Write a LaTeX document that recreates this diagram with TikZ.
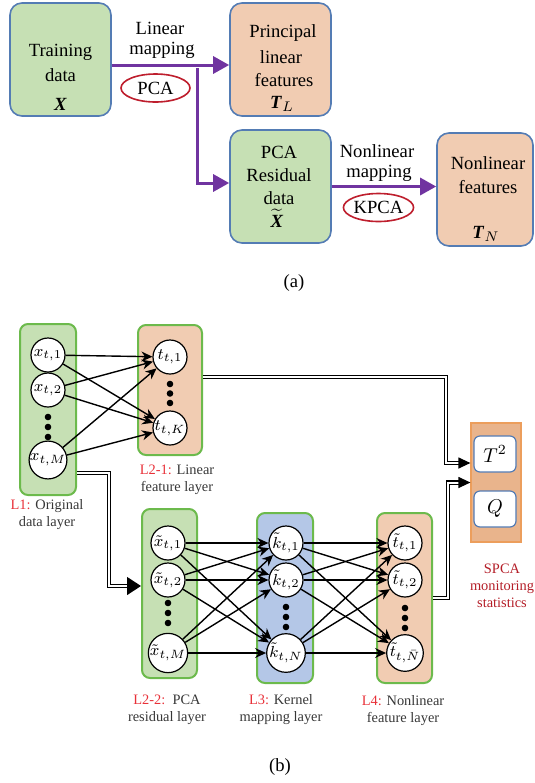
\documentclass[tikz,border=0pt]{standalone}
\usepackage{fontspec}
\setmainfont{Liberation Serif}
\usepackage{tikz}
\usetikzlibrary{arrows.meta,shapes.geometric}

\definecolor{boxgreen}{RGB}{198,224,180}
\definecolor{boxpeach}{RGB}{241,204,178}
\definecolor{boxblue}{RGB}{180,199,231}
\definecolor{edgeblue}{RGB}{84,124,180}
\definecolor{edgegreen}{RGB}{108,186,76}
\definecolor{mapviolet}{RGB}{112,52,160}
\definecolor{ovalred}{RGB}{190,30,45}
\definecolor{tagred}{RGB}{232,48,56}
\definecolor{statfill}{RGB}{233,180,140}
\definecolor{statedge}{RGB}{236,158,92}
\definecolor{statred}{RGB}{180,30,40}
\definecolor{txtgray}{RGB}{55,55,55}

\begin{document}
\begin{tikzpicture}[x=0.5pt,y=-0.5pt,
  blk/.style={draw=edgeblue,line width=0.8pt,rounded corners=6pt,minimum width=50.5pt,minimum height=56.5pt},
  txt/.style={font=\fontsize{9.3}{11}\selectfont,inner sep=0pt},
  oval/.style={ellipse,draw=ovalred,line width=0.8pt,fill=white,minimum width=34.5pt,minimum height=14pt,inner sep=0pt,font=\fontsize{9.3}{11}\selectfont},
  map/.style={draw=mapviolet,line width=1.5pt,-{Triangle[length=8pt,width=8.5pt]}},
  layer/.style={draw=edgegreen,line width=1pt,rounded corners=4pt},
  neuron/.style={circle,draw,fill=white,line width=0.6pt,minimum size=17pt,inner sep=0pt,font=\fontsize{8.5}{10}\selectfont},
  dot/.style={circle,fill,inner sep=0pt,minimum size=3.3pt},
  ar/.style={-{Stealth[length=5.5pt,width=5pt]},line width=0.7pt},
  dbl/.style={double,double distance=1pt,line width=0.6pt},
  stat/.style={draw=edgeblue,fill=white,line width=0.6pt,rounded corners=3pt,minimum width=21pt,minimum height=18pt,font=\fontsize{10}{12}\selectfont},
  tag/.style={font=\fontsize{7.2}{8.5}\selectfont,align=center,text=txtgray,inner sep=0pt}]
 \useasboundingbox (0,0) rectangle (535,783);
 % (a) linear / nonlinear split
 \node[blk,fill=boxgreen] (train) at (60.5,59.5) {};
 \node[blk,fill=boxpeach] (princ) at (280.5,59.5) {};
 \node[blk,fill=boxgreen] (resid) at (280.5,186.5) {};
 \node[blk,fill=boxpeach,minimum width=48pt] (nonl) at (485,189.5) {};
 \foreach \n/\x/\y/\t in {
   tra/60.5/52/Training, trb/60.5/75/data, trc/60.5/104/\textbf{\textit{X}},
   pra/283/33/Principal, prb/281/57/linear, prc/284/80/features, prd/282/104/{\textbf{\textit{T}}$_L$},
   rea/279/152/PCA, reb/279/175/Residual, rec/279/198/data, red/277/218/{$\widetilde{\textbf{\textit{X}}}$},
   nla/488/163/Nonlinear, nlb/488/187/features, nlc/486/234/{\textbf{\textit{T}}$_N$}} {
   \node[txt] (\n) at (\x,\y) {\t};
 }
 \coordinate (fork) at (197,65);
 \draw[map] (train.east |- fork) -- (princ.west |- fork);
 \draw[map] ([yshift=-1.5pt]fork) |- ([yshift=1.75pt]resid.west);
 \draw[map] (resid.east) -- (resid.east -| nonl.west);
 \node[txt] (lmapa) at (160,28) {Linear};
 \node[txt] (lmapb) at (162,50) {mapping};
 \node[oval] (pca) at (155.5,88) {PCA};
 \node[txt] (nmapa) at (377,151) {Nonlinear};
 \node[txt] (nmapb) at (379,173) {mapping};
 \node[oval] (kpca) at (378.5,207.5) {KPCA};
 \node[txt] (capa) at (294,283) {(a)};
 % (b) network layers
 \node[layer,fill=boxgreen,minimum width=28pt,minimum height=85.5pt] (orig) at (48,409.5) {};
 \node[layer,fill=boxpeach,minimum width=32pt,minimum height=65pt] (lin) at (170,390) {};
 \node[layer,fill=boxgreen,minimum width=27.5pt,minimum height=84.5pt] (res) at (169.5,593.5) {};
 \node[layer,fill=boxblue,minimum width=28pt,minimum height=85pt] (ker) at (285,598) {};
 \node[layer,fill=boxpeach,minimum width=27.5pt,minimum height=85pt] (nlf) at (404.5,598) {};
 \foreach \i/\y/\lab in {1/355/{x_{t,1}},2/390/{x_{t,2}},3/460/{x_{t,M}}}
   \node[neuron] (x\i) at (48,\y) {$\lab$};
 \foreach \i/\y/\lab in {1/357/{t_{t,1}},2/428/{t_{t,K}}}
   \node[neuron] (t\i) at (170,\y) {$\lab$};
 \foreach \i/\y/\lr/\lk/\ln in {
   1/543/{\tilde{x}_{t,1}}/{\tilde{k}_{t,1}}/{\tilde{t}_{t,1}},
   2/580/{\tilde{x}_{t,2}}/{\tilde{k}_{t,2}}/{\tilde{t}_{t,2}},
   3/653/{\tilde{x}_{t,M}}/{\tilde{k}_{t,N}}/{\tilde{t}_{t,\bar{N}}}} {
   \node[neuron] (r\i) at (168,\y) {$\lr$};
   \node[neuron] (k\i) at (286,\y) {$\lk$};
   \node[neuron] (n\i) at (405,\y) {$\ln$};
 }
 \foreach \j/\ya/\yb/\yc in {1/417/384/603,2/427/393.5/613,3/437/403/623} {
   \node[dot] (xd\j) at (48,\ya) {};
   \node[dot] (td\j) at (170,\yb) {};
   \node[dot] (rd\j) at (168,\yc) {};
   \node[dot] (kd\j) at (286,\yc+4) {};
   \node[dot] (nd\j) at (405,\yc+5) {};
 }
 \foreach \i in {1,2,3} {
   \foreach \j in {1,2} \draw[ar] (x\i) -- (t\j);
   \foreach \j in {1,2,3} {
     \draw[ar] (r\i) -- (k\j);
     \draw[ar] (k\i) -- (n\j);
   }
 }
 % monitoring statistics
 \node[draw=statedge,fill=statfill,line width=0.6pt,minimum width=25pt,minimum height=59.5pt] (spca) at (496,482.5) {};
 \node[stat] (tsq) at (495,454) {$T^2$};
 \node[stat] (qst) at (495,509) {$Q$};
 \draw[dbl,-{Triangle[length=6pt,width=5.5pt]}] ([yshift=6.5pt]lin.east) -- ++(243,0) |- ([yshift=9.75pt]spca.west);
 \draw[dbl,-{Triangle[length=6pt,width=5.5pt]}] (nlf.east) -- ++(15,0) |- (spca.west);
 \draw[dbl,-{Triangle[length=7pt,width=9pt]}] ([yshift=-31.75pt]orig.east) -- ++(32,0) |- ([yshift=3.75pt]res.west);
 % layer captions
 \node[tag] (lab1) at (47,515) {\textcolor{tagred}{L1:} Original\\data layer};
 \node[tag] (lab21) at (177,479.5) {\textcolor{tagred}{L2-1:} Linear\\feature layer};
 \node[tag] (lab22) at (167,710) {\textcolor{tagred}{L2-2:}\ \ PCA\\residual layer};
 \node[tag] (lab3) at (281,710) {\textcolor{tagred}{L3:} Kernel\\mapping layer};
 \node[tag] (lab4) at (403,711) {\textcolor{tagred}{L4:} Nonlinear\\feature layer};
 \node[tag,text=statred] (labs) at (502,586) {SPCA\\monitoring\\statistics};
 \node[txt] (capb) at (280,767) {(b)};
\end{tikzpicture}
\end{document}
